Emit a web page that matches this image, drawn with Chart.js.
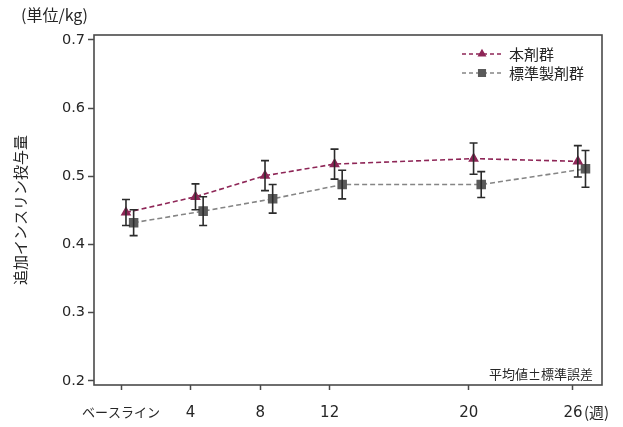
<!DOCTYPE html>
<html>
<head>
<meta charset="utf-8">
<script src="https://cdn.jsdelivr.net/npm/chart.js@4/dist/chart.umd.min.js"></script>
<style>
  html, body { margin: 0; padding: 0; background: #fff; }
  #wrap { width: 623px; height: 427px; }
</style>
</head>
<body>
<div id="wrap"><canvas id="chart" width="623" height="427"></canvas></div>
<script>
'use strict';

// weeks and labels on the x axis
const weeks = [0, 4, 8, 12, 20, 26];
const week_labels = ['ベースライン', '4', '8', '12', '20', '26'];
const y_ticks = [0.2, 0.3, 0.4, 0.5, 0.6, 0.7];

// 本剤群 (mean, SE)
const mean_test = [0.447, 0.470, 0.501, 0.518, 0.526, 0.522];
const se_test = [0.019, 0.019, 0.022, 0.022, 0.023, 0.023];
// 標準製剤群 (mean, SE)
const mean_ref = [0.432, 0.449, 0.467, 0.488, 0.488, 0.511];
const se_ref = [0.019, 0.021, 0.021, 0.021, 0.019, 0.027];

const FONT_LATIN = "'DejaVu Sans', 'Noto Sans CJK JP', sans-serif";
const FONT_JP = "'Noto Sans CJK JP', sans-serif";
const AXIS_COLOR = '#4a4a4a';
const TEXT_COLOR = '#262626';

// small side shift so the two groups do not overlap (in weeks)
const shift_test = 0.28;
const shift_ref = 0.72;

function to_points(means, shift){
    return means.map((m, i) => ({ x: weeks[i] + shift, y: m }));
}

// error bars (mean ± SE), drawn over the markers
const errorbar_plugin = {
    id: 'errorbars',
    afterDatasetsDraw: function(chart){
        const ctx = chart.ctx;
        const ys = chart.scales.y;
        chart.data.datasets.forEach((ds, di) => {
            const meta = chart.getDatasetMeta(di);
            ctx.save();
            ctx.strokeStyle = '#2b2b2b';
            ctx.lineWidth = 1.6;
            meta.data.forEach((pt, j) => {
                const m = ds.data[j].y;
                const e = ds.errors[j];
                const y1 = ys.getPixelForValue(m + e);
                const y2 = ys.getPixelForValue(m - e);
                const x = pt.x;
                ctx.beginPath();
                ctx.moveTo(x, y1); ctx.lineTo(x, y2);
                ctx.moveTo(x - 4, y1); ctx.lineTo(x + 4, y1);
                ctx.moveTo(x - 4, y2); ctx.lineTo(x + 4, y2);
                ctx.stroke();
            });
            ctx.restore();
        });
    }
};

// frame, legend and extra texts
const decor_plugin = {
    id: 'decor',
    beforeDatasetsDraw: function(chart){
        const a = chart.chartArea;
        const ctx = chart.ctx;
        ctx.save();
        ctx.strokeStyle = AXIS_COLOR;
        ctx.lineWidth = 1.6;
        ctx.strokeRect(a.left, a.top, a.right - a.left, a.bottom - a.top);
        ctx.restore();
    },
    afterDraw: function(chart){
        const a = chart.chartArea;
        const ctx = chart.ctx;
        ctx.save();

        // legend
        const rows = [54, 73];
        chart.data.datasets.forEach((ds, i) => {
            const y = rows[i];
            ctx.strokeStyle = ds.borderColor;
            ctx.lineWidth = 1.6;
            ctx.setLineDash([4, 3]);
            ctx.beginPath();
            ctx.moveTo(462, y); ctx.lineTo(502, y);
            ctx.stroke();
            ctx.setLineDash([]);
            ctx.fillStyle = ds.pointBackgroundColor;
            ctx.strokeStyle = ds.pointBackgroundColor;
            Chart.helpers.drawPoint(ctx, { pointStyle: ds.pointStyle, radius: ds.pointRadius - 1, rotation: 0, borderWidth: 1 }, 482, y);
            ctx.fillStyle = TEXT_COLOR;
            ctx.font = '15px ' + FONT_JP;
            ctx.textAlign = 'left';
            ctx.textBaseline = 'middle';
            ctx.fillText(ds.label, 509, y);
        });

        // unit label
        ctx.fillStyle = TEXT_COLOR;
        ctx.font = '16px ' + FONT_JP;
        ctx.textAlign = 'left';
        ctx.textBaseline = 'middle';
        ctx.fillText('(単位/kg)', 21, 15);

        // note
        ctx.font = '13px ' + FONT_JP;
        ctx.textAlign = 'right';
        ctx.fillText('平均値±標準誤差', a.right - 9, a.bottom - 11);

        // week unit next to the last tick label
        const xs = chart.scales.x;
        ctx.font = '15px ' + FONT_JP;
        ctx.textAlign = 'left';
        ctx.fillText('(週)', xs.getPixelForValue(26) + 11, 412);

        ctx.restore();
    }
};

const ctx = document.getElementById('chart').getContext('2d');
window.chart = new Chart(ctx, {
    type: 'line',
    data: {
        datasets: [
            {
                label: '本剤群',
                data: to_points(mean_test, shift_test),
                errors: se_test,
                borderColor: '#8e2657',
                backgroundColor: '#8e2657',
                pointBackgroundColor: '#8e2657',
                pointBorderColor: '#8e2657',
                pointStyle: 'triangle',
                pointRadius: 4.6,
                borderWidth: 1.6,
                borderDash: [5, 3],
                tension: 0,
            },
            {
                label: '標準製剤群',
                data: to_points(mean_ref, shift_ref),
                errors: se_ref,
                borderColor: '#858585',
                backgroundColor: '#5a5a5a',
                pointBackgroundColor: '#5a5a5a',
                pointBorderColor: '#5a5a5a',
                pointStyle: 'rect',
                pointRadius: 5.6,
                borderWidth: 1.6,
                borderDash: [5, 3],
                tension: 0,
            },
        ],
    },
    options: {
        responsive: false,
        animation: false,
        layout: { padding: { top: 35, right: 21, left: 0, bottom: 0 } },
        plugins: {
            legend: { display: false },
            tooltip: { enabled: false },
        },
        scales: {
            x: {
                type: 'linear',
                min: -1.56,
                max: 27.67,
                afterBuildTicks: function(scale){
                    scale.ticks = weeks.map(w => ({ value: w }));
                },
                afterFit: function(scale){ scale.height = 42; },
                border: { display: false },
                grid: { drawOnChartArea: false, drawTicks: true, tickLength: 5, tickColor: AXIS_COLOR, tickWidth: 1.5 },
                ticks: {
                    autoSkip: false,
                    maxRotation: 0,
                    padding: 14,
                    color: TEXT_COLOR,
                    font: function(c){
                        // the baseline label is narrower in the original
                        if( c.tick && c.tick.value === 0 ) return { size: 13, family: FONT_JP };
                        return { size: 15, family: FONT_LATIN };
                    },
                    callback: function(value){
                        const i = weeks.indexOf(value);
                        return i >= 0 ? week_labels[i] : '';
                    },
                },
            },
            y: {
                type: 'linear',
                min: 0.194,
                max: 0.7073,
                afterBuildTicks: function(scale){
                    scale.ticks = y_ticks.map(v => ({ value: v }));
                },
                afterFit: function(scale){ scale.width = 94; },
                border: { display: false },
                grid: { drawOnChartArea: false, drawTicks: true, tickLength: 6, tickColor: AXIS_COLOR, tickWidth: 1.5 },
                title: {
                    display: true,
                    text: '追加インスリン投与量',
                    color: TEXT_COLOR,
                    font: { size: 15, family: FONT_JP },
                    padding: { top: 11, bottom: 0 },
                },
                ticks: {
                    padding: 3,
                    color: TEXT_COLOR,
                    font: { size: 14.5, family: FONT_LATIN },
                    callback: function(value){ return value.toFixed(1); },
                },
            },
        },
    },
    plugins: [errorbar_plugin, decor_plugin],
});
</script>
</body>
</html>
